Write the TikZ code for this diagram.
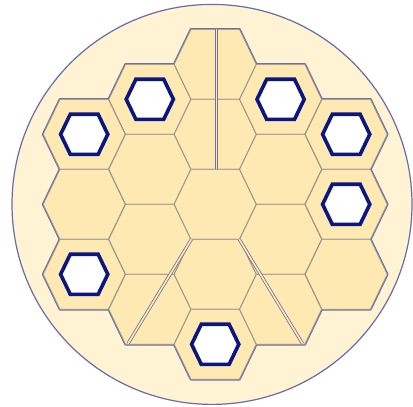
\documentclass[tikz,border=0pt]{standalone}
\usepackage{tikz}
\definecolor{discfill}{RGB}{255,243,212}
\definecolor{hexfill}{RGB}{253,233,177}
\definecolor{rimblue}{RGB}{104,108,168}
\definecolor{seamgray}{RGB}{152,147,142}
\definecolor{holenavy}{RGB}{12,22,128}
% cell centres, column by column
\newcommand\cellsites{84.2/134.3, 84.2/204.3, 84.2/274.3,
  149.8/99.3, 149.8/169.3, 149.8/239.3, 149.8/309.3,
  215.2/64.3, 215.2/134.3, 215.2/204.3, 215.2/274.3, 215.2/344.3,
  280.6/99.3, 280.6/169.3, 280.6/239.3, 280.6/309.3,
  346.2/134.3, 346.2/204.3, 346.2/274.3}
\newcommand\holesites{84.2/134.3, 84.2/274.3, 149.8/99.3, 280.6/99.3,
  346.2/134.3, 346.2/204.3, 215.2/344.3}

\begin{document}
\begin{tikzpicture}[
    x=1pt, y=-1pt,
    hexcell/.pic={\path[pic actions] (-41,0) -- (-24.2,-35) -- (24.2,-35) -- (41,0) -- (24.2,35) -- (-24.2,35) -- cycle;},
    holecell/.pic={\path[pic actions] (-23.6,0) -- (-13.9,-20.1) -- (13.9,-20.1) -- (23.6,0) -- (13.9,20.1) -- (-13.9,20.1) -- cycle;},
    disc/.style={draw=rimblue, fill=discfill, line width=1.2pt},
    rim/.style={draw=rimblue, line width=2.6pt, line join=round},
    cell/.style={fill=hexfill, draw=seamgray, line width=0.8pt, line join=round},
    hole/.style={fill=white, draw=holenavy, line width=3.6pt, line join=miter},
    seam/.style={draw=rimblue!85!seamgray, line width=0.8pt, double=hexfill, double distance=1.6pt},
  ]
  \useasboundingbox (0,0) rectangle (413,407);
  \draw[disc] (212,204.4) circle[radius=200];
  % outline of the core, then the cells over it
  \foreach \cx/\cy in \cellsites
    \pic[rim] at (\cx,\cy) {hexcell};
  \foreach \cx/\cy in \cellsites
    \pic[cell] at (\cx,\cy) {hexcell};
  \foreach \cx/\cy in \holesites
    \pic[hole] at (\cx,\cy) {holecell};
  % seams
  \coordinate (topseam)   at (216.3,29.3);
  \coordinate (midseam)   at (216.3,169.3);
  \coordinate (leftfork)  at (191.4,239.3);
  \coordinate (leftfoot)  at (128,343.6);
  \coordinate (rightfork) at (239.2,239.3);
  \coordinate (rightfoot) at (302.5,343.6);
  \draw[seam] (topseam) -- (midseam);
  \draw[seam] (leftfork) -- (leftfoot);
  \draw[seam] (rightfork) -- (rightfoot);
\end{tikzpicture}
\end{document}
